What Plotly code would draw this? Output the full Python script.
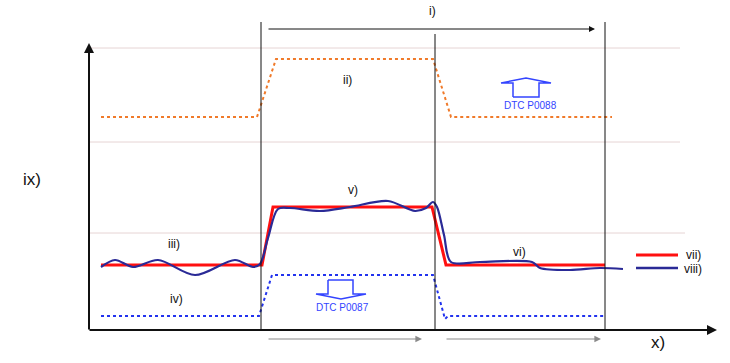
import plotly.graph_objects as go

# ---- data (drawing units: x to the right, y downward, page-like coordinates) ----
# red reference signal vii)
red_x = [101, 262, 273, 432, 446, 605]
red_y = [265, 265, 207, 207, 265, 265]

# blue measured signal viii) (wavy)
blue_x = [101, 115, 133, 158, 195, 235, 253, 260, 268, 278, 290, 320, 350, 388, 415, 426, 433, 437, 444, 451, 480, 532, 540, 570, 600, 623]
blue_y = [267, 260, 267, 260, 275, 260, 267, 264, 238, 209, 208, 211, 207, 201, 211, 208, 202, 207, 235, 262, 262, 262, 268, 270, 268, 269]

# orange dotted ii)
orange_x = [101, 257, 276, 433, 451, 612]
orange_y = [117, 117, 59, 59, 117, 117]

# blue dotted iv)
bdot_x = [101, 259, 272, 433, 445, 448, 605]
bdot_y = [316, 316, 275, 275, 319, 316, 316]

# gray grid lines
grid_y = [48, 142, 233]
grid_x_end = [680, 680, 685]

# vertical phase boundaries
vline_x = [261, 435, 605]
vline_top = [22, 34, 22]

# DTC block arrows (outlines)
up_arrow_x = [513, 513, 501, 526, 551, 539, 539, 513]
up_arrow_y = [97, 83, 83, 78, 83, 83, 97, 97]
down_arrow_x = [328, 328, 316, 341, 366, 353, 353, 328]
down_arrow_y = [280, 294, 294, 299, 294, 294, 280, 280]

labels = [("i)", 432, 11), ("ii)", 347, 80), ("iii)", 174, 244), ("iv)", 176, 299),
          ("v)", 353, 190), ("vi)", 519, 252)]

W, H = 730, 363
fig = go.Figure()

# grid lines
for gy, gx in zip(grid_y, grid_x_end):
    fig.add_shape(type="line", x0=89, x1=gx, y0=gy, y1=gy,
                  line=dict(color="#E6D4D4", width=1), layer="below")

# vertical lines
for vx, vt in zip(vline_x, vline_top):
    fig.add_shape(type="line", x0=vx, x1=vx, y0=vt, y1=330,
                  line=dict(color="#111111", width=1))

fig.add_trace(go.Scatter(x=orange_x, y=orange_y, mode="lines",
                         line=dict(color="#F07A2A", width=2, dash="dot"), hoverinfo="skip"))
fig.add_trace(go.Scatter(x=bdot_x, y=bdot_y, mode="lines",
                         line=dict(color="#2233EE", width=2, dash="dot"), hoverinfo="skip"))
fig.add_trace(go.Scatter(x=red_x, y=red_y, mode="lines",
                         line=dict(color="#FF1010", width=3), hoverinfo="skip"))
fig.add_trace(go.Scatter(x=blue_x, y=blue_y, mode="lines",
                         line=dict(color="#2A2A96", width=2.2, shape="spline", smoothing=0.9),
                         hoverinfo="skip"))

# DTC arrows
fig.add_trace(go.Scatter(x=up_arrow_x, y=up_arrow_y, mode="lines",
                         line=dict(color="#3344FF", width=1.5), hoverinfo="skip"))
fig.add_trace(go.Scatter(x=down_arrow_x, y=down_arrow_y, mode="lines",
                         line=dict(color="#3344FF", width=1.5), hoverinfo="skip"))

# legend lines
fig.add_trace(go.Scatter(x=[636, 678], y=[255, 255], mode="lines",
                         line=dict(color="#FF1010", width=3), hoverinfo="skip"))
fig.add_trace(go.Scatter(x=[636, 678], y=[268, 268], mode="lines",
                         line=dict(color="#2A2A96", width=2.5), hoverinfo="skip"))

ann = []
# axes with arrows
ann.append(dict(x=89, y=43, ax=89, ay=331, xref="x", yref="y", axref="x", ayref="y",
                showarrow=True, arrowhead=2, arrowsize=1, arrowwidth=2, arrowcolor="#111111", text=""))
ann.append(dict(x=717, y=330, ax=88, ay=330, xref="x", yref="y", axref="x", ayref="y",
                showarrow=True, arrowhead=2, arrowsize=1, arrowwidth=2, arrowcolor="#111111", text=""))
# i) arrow
ann.append(dict(x=595, y=29, ax=267, ay=29, xref="x", yref="y", axref="x", ayref="y",
                showarrow=True, arrowhead=2, arrowsize=1.2, arrowwidth=1, arrowcolor="#111111", text=""))
# bottom gray arrows
for x0, x1 in [(267, 422), (445, 601)]:
    ann.append(dict(x=x1, y=339, ax=x0, ay=339, xref="x", yref="y", axref="x", ayref="y",
                    showarrow=True, arrowhead=2, arrowsize=1.1, arrowwidth=1.2, arrowcolor="#8A8A8A", text=""))

FONT = "Liberation Sans, Arial"
for t, x, y in labels:
    ann.append(dict(x=x, y=y, xref="x", yref="y", text=t, showarrow=False,
                    font=dict(family=FONT, size=12, color="#111111")))
ann.append(dict(x=32, y=179, xref="x", yref="y", text="ix)", showarrow=False,
                font=dict(family=FONT, size=17, color="#111111")))
ann.append(dict(x=658, y=342, xref="x", yref="y", text="x)", showarrow=False,
                font=dict(family=FONT, size=17, color="#111111")))
ann.append(dict(x=530, y=105, xref="x", yref="y", text="DTC P0088", showarrow=False,
                font=dict(family=FONT, size=10, color="#3344FF")))
ann.append(dict(x=342, y=307, xref="x", yref="y", text="DTC P0087", showarrow=False,
                font=dict(family=FONT, size=10, color="#3344FF")))
ann.append(dict(x=684, y=255, xref="x", yref="y", text="vii)", showarrow=False, xanchor="left",
                font=dict(family=FONT, size=12, color="#111111")))
ann.append(dict(x=682, y=269, xref="x", yref="y", text="viii)", showarrow=False, xanchor="left",
                font=dict(family=FONT, size=12, color="#111111")))

fig.update_layout(
    width=W, height=H, margin=dict(l=0, r=0, t=0, b=0),
    paper_bgcolor="white", plot_bgcolor="white", showlegend=False,
    xaxis=dict(range=[0, W], visible=False, fixedrange=True),
    yaxis=dict(range=[H, 0], visible=False, fixedrange=True),
    annotations=ann,
)
fig.write_html("out.html", config={"displayModeBar": False, "staticPlot": True},
               post_script="document.body.style.margin='0px';document.body.style.overflow='hidden';")
